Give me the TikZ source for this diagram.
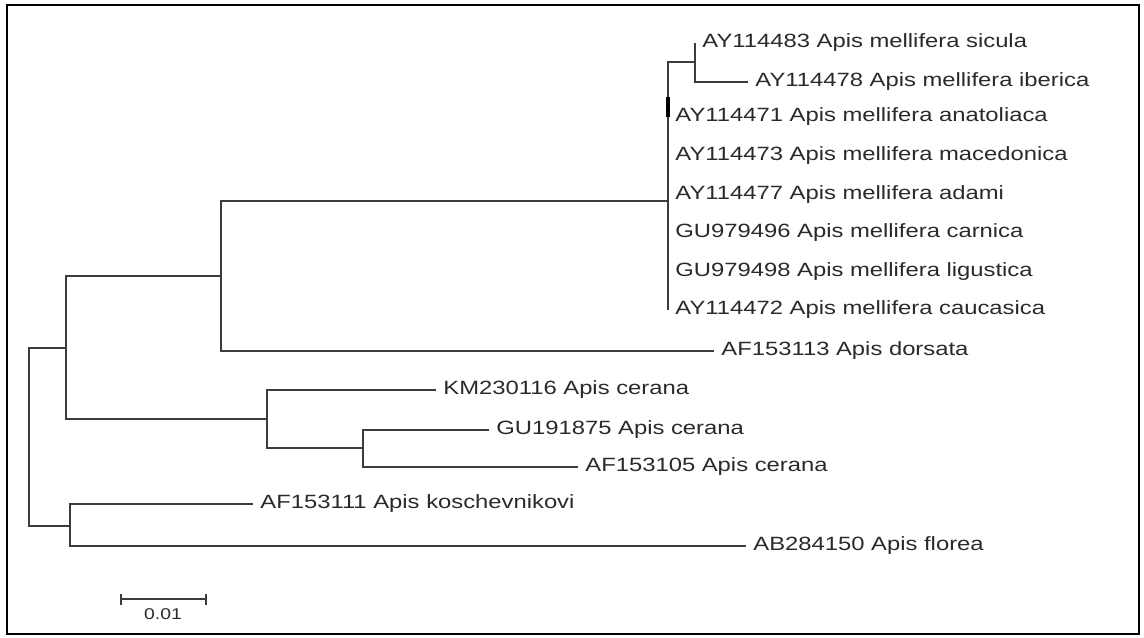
\documentclass[tikz,border=0pt]{standalone}
\usepackage{fontspec}
\setmainfont[FakeStretch=1.24]{Liberation Sans}
\usetikzlibrary{arrows.meta}
\definecolor{TLine}{HTML}{3C3C3C}
\definecolor{TText}{HTML}{2A2A2A}

\begin{document}
\begin{tikzpicture}[
  x=0.5pt,y=-0.5pt,
  every node/.style={font=\fontsize{9.6}{11}\selectfont,text=TText},
  leaf/.style={anchor=west,inner xsep=3.5pt,inner ysep=0pt},
  br/.style={draw=TLine,line width=0.8pt},
  scalebar/.style={draw=TLine,line width=0.8pt,{Bar[width=5.5pt]}-{Bar[width=5.5pt]}}
]
  \useasboundingbox (0,0) rectangle (1144,637);
  \draw[line width=1.1pt] (7,5) rectangle (1139,634);

  % inner nodes of the tree
  \coordinate (root) at (29,437);
  \coordinate (nA) at (66,348);
  \coordinate (nB) at (221,276);
  \coordinate (nM) at (668,201);
  \coordinate (nS) at (695,62);
  \coordinate (nC) at (267,419);
  \coordinate (nD) at (363,448);
  \coordinate (nE) at (70,526);

  % leaves
  \node[leaf] (sicula) at (695,43) {AY114483 Apis mellifera sicula};
  \node[leaf] (iberica) at (748,82) {AY114478 Apis mellifera iberica};
  \node[leaf] (anatoliaca) at (668,117) {AY114471 Apis mellifera anatoliaca};
  \node[leaf] (macedonica) at (668,155.6) {AY114473 Apis mellifera macedonica};
  \node[leaf] (adami) at (668,194.2) {AY114477 Apis mellifera adami};
  \node[leaf] (carnica) at (668,232.8) {GU979496 Apis mellifera carnica};
  \node[leaf] (ligustica) at (668,271.4) {GU979498 Apis mellifera ligustica};
  \node[leaf] (caucasica) at (668,310) {AY114472 Apis mellifera caucasica};
  \node[leaf] (dorsata) at (714,351) {AF153113 Apis dorsata};
  \node[leaf] (ceranaA) at (436,390) {KM230116 Apis cerana};
  \node[leaf] (ceranaB) at (489,430) {GU191875 Apis cerana};
  \node[leaf] (ceranaC) at (578,467) {AF153105 Apis cerana};
  \node[leaf] (kosch) at (253,504) {AF153111 Apis koschevnikovi};
  \node[leaf] (florea) at (746,546) {AB284150 Apis florea};

  % branches
  \draw[br] (sicula.west) |- (iberica.west);
  \draw[br] (nS) -| (nM) |- (caucasica.west);
  \draw[line width=1.6pt,black] (668,97) -- (668,117);
  \draw[br] (nM) -| (nB) |- (dorsata.west);
  \draw[br] (ceranaB.west) -| (nD) |- (ceranaC.west);
  \draw[br] (ceranaA.west) -| (nC) |- (nD);
  \draw[br] (nB) -| (nA) |- (nC);
  \draw[br] (kosch.west) -| (nE) |- (florea.west);
  \draw[br] (nA) -| (root) |- (nE);

  % scale bar
  \coordinate (sbL) at (120,599);
  \coordinate (sbR) at (207,599);
  \draw[scalebar] (sbL) -- (sbR);
  \node[font=\fontsize{7.8}{9}\selectfont] (sbtext) at (163,614) {0.01};
\end{tikzpicture}
\end{document}
